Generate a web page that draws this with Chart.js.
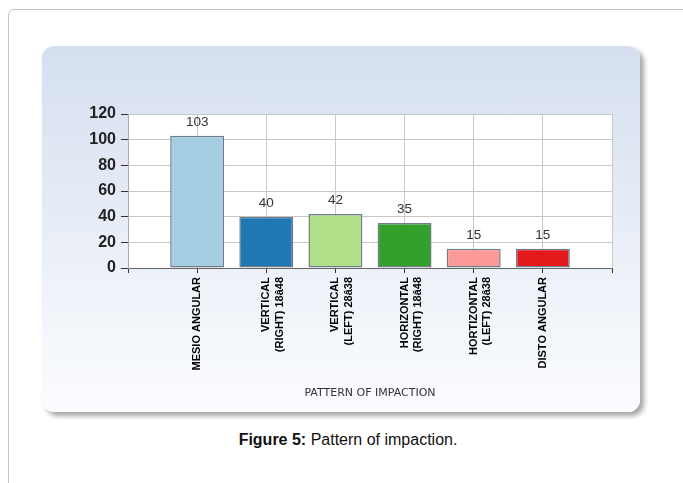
<!DOCTYPE html>
<html>
<head>
<meta charset="utf-8">
<script src="https://cdn.jsdelivr.net/npm/chart.js@4.4.1/dist/chart.umd.min.js"></script>
<style>
  body { margin: 0; background: #fff; width: 683px; height: 483px; overflow: hidden; position: relative; }
  #frame { position: absolute; left: 8px; top: 9px; width: 720px; height: 520px; border: 1px solid #c4c4c4; border-radius: 6px; }
  #panel { position: absolute; left: 42px; top: 46px; width: 598px; height: 366px; border-radius: 12px;
           background: linear-gradient(#d5dff0 0%, #e6ecf6 45%, #f4f7fb 80%, #fbfcfe 100%);
           box-shadow: 4px 4px 5px rgba(0,0,0,0.35), -1px -1px 2px rgba(255,255,255,0.9); }
  #panel canvas { position: absolute; left: 0; top: 0; }
  #caption { position: absolute; left: 0; width: 696px; top: 431px; text-align: center;
             font: 16px "Liberation Sans", Arial, sans-serif; color: #111; }
</style>
</head>
<body>
<div id="frame"></div>
<div id="panel"><canvas id="chart" width="598" height="366"></canvas></div>
<div id="caption"><b>Figure 5:</b> Pattern of impaction.</div>
<script>
// categories (empty slots at both ends leave the gaps seen in the original)
const categories = ['', 'MESIO ANGULAR', ['VERTICAL', '(RIGHT) 18â48'], ['VERTICAL', '(LEFT) 28â38'],
  ['HORIZONTAL', '(RIGHT) 18â48'], ['HORTIZONTAL', '(LEFT) 28â38'], 'DISTO ANGULAR', '']
const values = [null, 103, 40, 42, 35, 15, 15, null]
const barColors = ['#fff', '#a6cee3', '#1f78b4', '#b2df8a', '#33a02c', '#fb9a99', '#e31a1c', '#fff']
const yTicks = [0, 20, 40, 60, 80, 100, 120]

const chart = document.querySelector('#chart').getContext('2d')

// white plot area
const plotBg = {
  id: 'plotBg',
  beforeDraw(c) {
    const a = c.chartArea, ctx = c.ctx
    ctx.save()
    ctx.fillStyle = '#fff'
    ctx.fillRect(a.left, a.top, a.right - a.left, a.bottom - a.top)
    ctx.restore()
  }
}

// value on top of each bar
const barValues = {
  id: 'barValues',
  afterDatasetsDraw(c) {
    const ctx = c.ctx
    ctx.save()
    ctx.font = '13.5px "Liberation Sans", Arial, sans-serif'
    ctx.fillStyle = '#333'
    ctx.textAlign = 'center'
    ctx.textBaseline = 'bottom'
    c.getDatasetMeta(0).data.forEach((bar, i) => {
      if (values[i] == null) return
      ctx.fillText(values[i], bar.x, bar.y - 7)
    })
    ctx.restore()
  }
}

new Chart(chart, {
  type: 'bar',
  data: {
    labels: categories,
    datasets: [{
      data: values,
      backgroundColor: barColors,
      borderColor: '#6f7c89',
      borderWidth: 1.5,
      borderSkipped: false,
      barPercentage: 0.78,
      categoryPercentage: 1
    }]
  },
  options: {
    responsive: false,
    animation: false,
    layout: { padding: { top: 68, right: 28, left: 0, bottom: 0 } },
    plugins: { legend: { display: false }, tooltip: { enabled: false } },
    scales: {
      x: {
        offset: false,
        grid: { offset: false, color: '#c8c8c8', tickColor: '#333', tickLength: 5 },
        border: { color: '#666' },
        ticks: {
          autoSkip: false, minRotation: 90, maxRotation: 90, padding: 4, color: '#000',
          font: { family: '"Liberation Sans", Arial, sans-serif', size: 11, weight: 'bold', lineHeight: 1.25 }
        },
        title: {
          display: true, text: 'PATTERN OF IMPACTION', color: '#333',
          font: { family: '"DejaVu Sans", Verdana, sans-serif', size: 11 },
          padding: { top: 0, bottom: 12 }
        },
        afterFit(s) { s.height = 144 }
      },
      y: {
        min: 0, max: 120,
        afterBuildTicks(s) { s.ticks = yTicks.map(v => ({ value: v })) },
        grid: { color: '#c8c8c8', tickColor: '#333', tickLength: 7 },
        border: { color: '#aaa' },
        ticks: {
          padding: 5, color: '#222',
          font: { family: '"Liberation Sans", Arial, sans-serif', size: 16, weight: 'bold' }
        },
        afterFit(s) { s.width = 86 }
      }
    }
  },
  plugins: [plotBg, barValues]
})
</script>
</body>
</html>
